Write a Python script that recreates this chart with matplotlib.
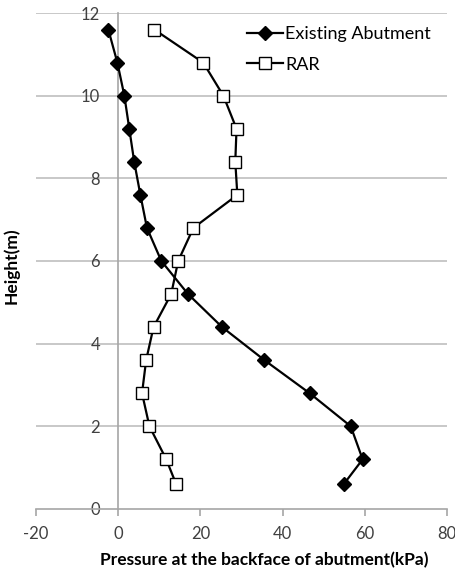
import matplotlib.pyplot as plt

# heights (m) of the measurement points
height = [11.6, 10.8, 10.0, 9.2, 8.4, 7.6, 6.8, 6.0, 5.2, 4.4, 3.6, 2.8, 2.0, 1.2, 0.6]
existing = [-2.4, -0.2, 1.5, 2.7, 3.9, 5.4, 7.0, 10.5, 17.0, 25.3, 35.6, 46.6, 56.6, 59.5, 54.9]
rar = [8.8, 20.7, 25.6, 28.8, 28.5, 29.0, 18.3, 14.6, 12.9, 8.6, 6.8, 5.8, 7.6, 11.7, 14.1]

xticks = [-20, 0, 20, 40, 60, 80]
yticks = [0, 2, 4, 6, 8, 10, 12]

plt.rcParams['font.family'] = ['Lato', 'DejaVu Sans']
plt.rcParams['axes.unicode_minus'] = False

fig = plt.figure(figsize=(4.56, 5.68), dpi=100)
ax = fig.add_axes([0.079, 0.104, 0.901, 0.873])

ax.plot(existing, height, color='black', lw=1.6, marker='D', ms=7,
        mfc='black', mec='black', label='Existing Abutment', zorder=3)
ax.plot(rar, height, color='black', lw=1.6, marker='s', ms=9,
        mfc='white', mec='black', mew=1.0, label='RAR', zorder=3)

ax.set_xlim(-20, 80)
ax.set_ylim(0, 12)
ax.set_xticks(xticks)
ax.set_yticks(yticks)

for y in yticks[1:]:
    ax.axhline(y, color='#bfbfbf', lw=1.2, zorder=1)

for s in ['top', 'right']:
    ax.spines[s].set_visible(False)
ax.spines['left'].set_position(('data', 0))
ax.spines['left'].set_color('#a6a6a6')
ax.spines['bottom'].set_color('#a6a6a6')
ax.spines['left'].set_linewidth(1.2)
ax.spines['bottom'].set_linewidth(1.2)

ax.tick_params(axis='y', length=0, pad=13, labelsize=12, labelcolor='#404040')
ax.tick_params(axis='x', length=5, width=1.2, color='#a6a6a6', direction='out',
               labelsize=12, labelcolor='#404040', pad=7)

ax.set_xlabel('Pressure at the backface of abutment(kPa)', fontsize=12.5,
              fontweight='bold')
ax.xaxis.set_label_coords(0.555, -0.087)
ax.set_ylabel('Height(m)', fontsize=12.5, fontweight='bold')
ax.yaxis.set_label_coords(-0.04, 0.49)

ax.legend(loc='upper right', bbox_to_anchor=(1.0, 1.006), frameon=False,
          handlelength=2.0, handletextpad=0.1, labelspacing=0.8, fontsize=13)

fig.savefig('out.png', dpi=100)
